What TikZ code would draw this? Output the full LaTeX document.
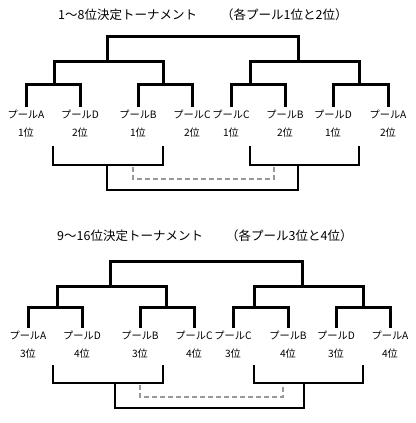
\documentclass[tikz,border=0pt]{standalone}
\usepackage{fontspec}
\setmainfont{Noto Sans CJK JP}
\begin{document}
\begin{tikzpicture}[x=1pt,y=-1pt,
  tree/.style={line width=3pt,line cap=rect,line join=miter},
  brk/.style={line width=2pt,line join=miter},
  dsh/.style={line width=1.6pt,draw=black!40,dash pattern=on 5pt off 3pt},
  lbl/.style={inner sep=0pt,align=center,font=\fontsize{10.2}{18}\selectfont},
  ttl/.style={inner sep=0pt,anchor=west,font=\fontsize{12.5}{14}\selectfont}]
\useasboundingbox (0,0) rectangle (415,423);

% ---------- Tournament 1 ----------
\node[ttl] (t1a) at (58,15) {1〜8位決定トーナメント};
\node[ttl] (t1b) at (221,15) {（各プール1位と2位）};

\foreach \n/\x in {1/26,2/80,3/138,4/192,5/231,6/285,7/333,8/388}{
  \coordinate (p\n) at (\x,105);
}
\node[lbl] (a1) at (26,124) {プールA\\1位};
\node[lbl] (a2) at (80,124) {プールD\\2位};
\node[lbl] (a3) at (138,124) {プールB\\1位};
\node[lbl] (a4) at (192,124) {プールC\\2位};
\node[lbl] (a5) at (231,124) {プールC\\1位};
\node[lbl] (a6) at (285,124) {プールB\\2位};
\node[lbl] (a7) at (333,124) {プールD\\1位};
\node[lbl] (a8) at (388,124) {プールA\\2位};

\coordinate (q1) at (54,84);  \coordinate (q2) at (163,84);
\coordinate (q3) at (250,84); \coordinate (q4) at (359,84);
\coordinate (r1) at (107,61); \coordinate (r2) at (298,61);
\coordinate (top1) at (107,36);

\draw[tree] (p1) |- (q1) -| (p2);
\draw[tree] (p3) |- (q2) -| (p4);
\draw[tree] (p5) |- (q3) -| (p6);
\draw[tree] (p7) |- (q4) -| (p8);
\draw[tree] (q1) |- (r1) -| (q2);
\draw[tree] (q3) |- (r2) -| (q4);
\draw[tree] (r1) |- (top1) -| (r2);

\coordinate (b1) at (53,146);  \coordinate (b2) at (163,146);
\coordinate (b3) at (250,146); \coordinate (b4) at (359,146);
\coordinate (m1) at (107,165); \coordinate (m2) at (298,165);
\draw[brk] (b1) |- (m1) -| (b2);
\draw[brk] (b3) |- (m2) -| (b4);
\coordinate (mm) at (200,190);
\draw[brk] (m1) |- (mm) -| (m2);
\coordinate (d1) at (133,167); \coordinate (d2) at (274,167);
\coordinate (dm) at (200,179);
\draw[dsh] (d1) |- (dm) -| (d2);

% ---------- Tournament 2 ----------
\node[ttl] (t2a) at (57,236) {9〜16位決定トーナメント};
\node[ttl] (t2b) at (226,236) {（各プール3位と4位）};

\foreach \n/\x in {1/28,2/82,3/140,4/194,5/233,6/288,7/336,8/390}{
  \coordinate (s\n) at (\x,326);
}
\node[lbl] (c1) at (28,345) {プールA\\3位};
\node[lbl] (c2) at (82,345) {プールD\\4位};
\node[lbl] (c3) at (140,345) {プールB\\3位};
\node[lbl] (c4) at (194,345) {プールC\\4位};
\node[lbl] (c5) at (233,345) {プールC\\3位};
\node[lbl] (c6) at (288,345) {プールB\\4位};
\node[lbl] (c7) at (336,345) {プールD\\3位};
\node[lbl] (c8) at (390,345) {プールA\\4位};

\coordinate (u1) at (57,307);  \coordinate (u2) at (166,307);
\coordinate (u3) at (254,307); \coordinate (u4) at (363,307);
\coordinate (v1) at (110,286); \coordinate (v2) at (302,286);
\coordinate (top2) at (110,261);

\draw[tree] (s1) |- (u1) -| (s2);
\draw[tree] (s3) |- (u2) -| (s4);
\draw[tree] (s5) |- (u3) -| (s6);
\draw[tree] (s7) |- (u4) -| (s8);
\draw[tree] (u1) |- (v1) -| (u2);
\draw[tree] (u3) |- (v2) -| (u4);
\draw[tree] (v1) |- (top2) -| (v2);

\coordinate (e1) at (53,365);  \coordinate (e2) at (163,365);
\coordinate (e3) at (254,365); \coordinate (e4) at (363,365);
\coordinate (n1) at (115,383); \coordinate (n2) at (304,383);
\draw[brk] (e1) |- (n1) -| (e2);
\draw[brk] (e3) |- (n2) -| (e4);
\coordinate (nm) at (200,408);
\draw[brk] (n1) |- (nm) -| (n2);
\coordinate (f1) at (140,385); \coordinate (f2) at (283,385);
\coordinate (fm) at (200,397);
\draw[dsh] (f1) |- (fm) -| (f2);
\end{tikzpicture}
\end{document}
